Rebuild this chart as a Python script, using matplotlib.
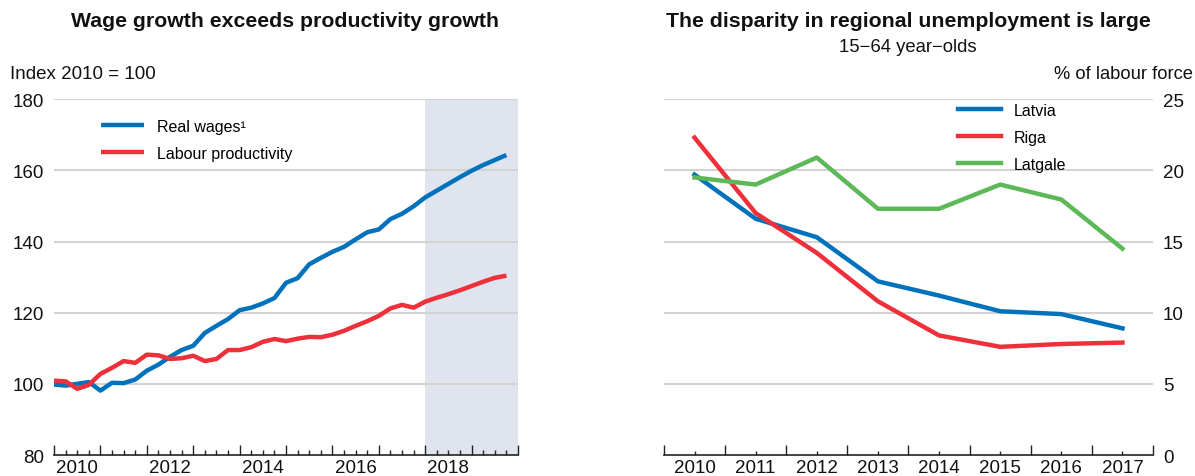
import numpy as np
import matplotlib.pyplot as plt
from matplotlib.ticker import MultipleLocator

plt.rcParams['font.family'] = ['Liberation Sans', 'DejaVu Sans']

# Left panel: quarterly index, 2010Q1 .. 2019Q4
quarters = np.arange(2010, 2020, 0.25)
real_wages = [99.8, 99.5, 100.0, 100.5, 98.1, 100.3, 100.2, 101.2,
              103.7, 105.4, 107.6, 109.5, 110.7, 114.3, 116.3, 118.2,
              120.7, 121.4, 122.6, 124.1, 128.4, 129.7, 133.6, 135.4,
              137.1, 138.5, 140.6, 142.6, 143.4, 146.3, 147.8, 149.9,
              152.4, 154.3, 156.2, 158.1, 159.9, 161.5, 162.9, 164.3]
productivity = [100.9, 100.7, 98.6, 99.7, 102.8, 104.5, 106.4, 105.9,
                108.2, 108.0, 107.0, 107.2, 107.9, 106.4, 107.0, 109.5,
                109.5, 110.3, 111.8, 112.6, 112.0, 112.7, 113.2, 113.1,
                113.8, 114.9, 116.3, 117.6, 119.1, 121.2, 122.2, 121.4,
                123.1, 124.2, 125.2, 126.3, 127.5, 128.7, 129.8, 130.4]
projection_start = 2018

# Right panel: unemployment, % of labour force
years = ['2010', '2011', '2012', '2013', '2014', '2015', '2016', '2017']
latvia = [19.7, 16.6, 15.3, 12.2, 11.2, 10.1, 9.9, 8.9]
riga = [22.3, 17.0, 14.2, 10.8, 8.4, 7.6, 7.8, 7.9]
latgale = [19.5, 19.0, 20.9, 17.3, 17.3, 19.0, 17.95, 14.5]

blue = '#0072BC'
red = '#ED3039'
green = '#5DB858'
grid_col = '#D3D3D3'

fig = plt.figure(figsize=(11.95, 4.77), dpi=100)
ax1 = fig.add_axes([0.0452, 0.044, 0.3883, 0.746])
ax2 = fig.add_axes([0.5556, 0.044, 0.4093, 0.746])

for ax in (ax1, ax2):
    for s in ('top', 'right', 'left'):
        ax.spines[s].set_visible(False)
    ax.spines['bottom'].set_color('#222222')
    ax.spines['bottom'].set_linewidth(1.2)
    ax.yaxis.grid(True, color=grid_col, linewidth=1.5)
    ax.set_axisbelow(True)
    ax.tick_params(axis='y', length=0, labelsize=13.5, colors='#111111')

# ---- left
ax1.axvspan(projection_start, 2020, color='#DFE4EE', zorder=0, lw=0)
ax1.plot(quarters, real_wages, color=blue, lw=3.2, label='Real wages\u00b9', solid_capstyle='butt')
ax1.plot(quarters, productivity, color=red, lw=3.2, label='Labour productivity', solid_capstyle='butt')
ax1.set_xlim(2010, 2020)
ax1.set_ylim(80, 180)
ax1.set_yticks(range(80, 181, 20))
ax1.yaxis.get_gridlines()[0].set_visible(False)
ax1.set_xticks(range(2010, 2021))
ax1.set_xticklabels([])
ax1.xaxis.set_minor_locator(MultipleLocator(0.25))
ax1.tick_params(axis='x', which='major', direction='in', length=7, width=1, color='#222222')
ax1.tick_params(axis='x', which='minor', direction='in', length=3.5, width=1, color='#222222')
for y in range(2010, 2020, 2):
    ax1.text(y + 0.5, -0.01, str(y), transform=ax1.get_xaxis_transform(),
             ha='center', va='top', fontsize=13.5, color='#111111')
ax1.tick_params(axis='y', pad=7)
ax1.legend(loc='upper left', bbox_to_anchor=(0.07, 0.985), frameon=False,
           fontsize=11.5, handlelength=2.7, handletextpad=0.8, labelspacing=0.75)
fig.text(0.2385, 0.954, 'Wage growth exceeds productivity growth', fontsize=15.3,
         fontweight='bold', ha='center', va='center', color='#111111')
fig.text(0.008, 0.826, 'Index 2010 = 100', fontsize=13.5, ha='left', va='bottom', color='#111111')

# ---- right
x = np.arange(len(years))
ax2.plot(x, latvia, color=blue, lw=3.2, label='Latvia')
ax2.plot(x, riga, color=red, lw=3.2, label='Riga')
ax2.plot(x, latgale, color=green, lw=3.2, label='Latgale')
ax2.set_xlim(-0.5, len(years) - 0.5)
ax2.set_ylim(0, 25)
ax2.set_yticks(range(0, 26, 5))
ax2.yaxis.get_gridlines()[0].set_visible(False)
ax2.yaxis.tick_right()
ax2.tick_params(axis='y', pad=7)
ax2.set_xticks(np.arange(-0.5, len(years), 1))
ax2.set_xticklabels([])
ax2.set_xticks(x, minor=True)
ax2.set_xticklabels(years, minor=True, fontsize=13.5, color='#111111')
ax2.tick_params(axis='x', which='major', direction='in', length=7, width=1, color='#222222')
ax2.tick_params(axis='x', which='minor', direction='in', length=3, width=1, color='#222222', pad=3)
ax2.legend(loc='upper left', bbox_to_anchor=(0.572, 1.03), frameon=False,
           fontsize=11.5, handlelength=2.7, handletextpad=0.8, labelspacing=0.75)
fig.text(0.76, 0.954, 'The disparity in regional unemployment is large', fontsize=15.3,
         fontweight='bold', ha='center', va='center', color='#111111')
fig.text(0.76, 0.90, '15\u221264 year\u2212olds', fontsize=13.3, ha='center', va='center', color='#111111')
fig.text(0.998, 0.826, '% of labour force', fontsize=13.2, ha='right', va='bottom', color='#111111')

fig.savefig('out.png', dpi=100)
